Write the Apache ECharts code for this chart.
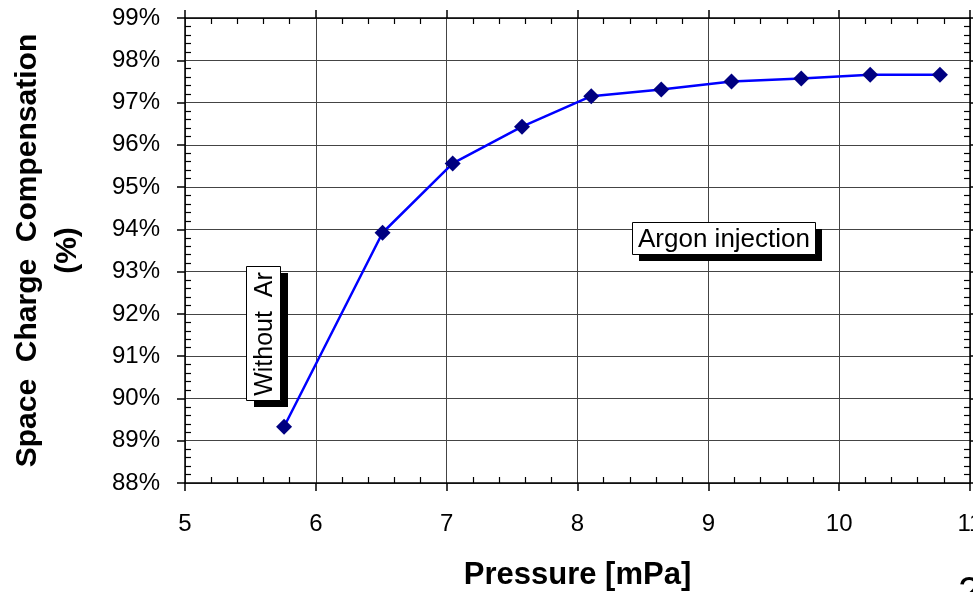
<!DOCTYPE html>
<html>
<head>
<meta charset="utf-8">
<script src="https://cdn.jsdelivr.net/npm/echarts@6/dist/echarts.min.js"></script>
<style>
html,body{margin:0;padding:0;background:#fff;}
#chart{width:973px;height:592px;}
</style>
</head>
<body>
<div id="chart"></div>
<script>
// Data
var pressure = [5.757, 6.51, 7.046, 7.576, 8.105, 8.64, 9.177, 9.71, 10.237, 10.77];
var compensation = [89.33, 93.92, 95.56, 96.43, 97.15, 97.31, 97.50, 97.57, 97.66, 97.66];
var xTitle = 'Pressure [mPa]';
var yTitle = 'Space  Charge  Compensation\n(%)';
var annotations = ['Argon injection', 'Without  Ar'];

var FONT = '"Liberation Sans", Arial, sans-serif';
var chart = echarts.init(document.getElementById('chart'));

var gridColor = '#444';
function baseX(extra) {
  return Object.assign({
    type: 'value', min: 5, max: 11, interval: 1, gridIndex: 0,
    axisLine: { show: true, onZero: false, lineStyle: { color: '#000', width: 1.5 } },
    axisTick: { show: true, length: 8, lineStyle: { color: '#000', width: 1.5 } },
    axisLabel: { show: false },
    splitLine: { show: false },
    minorTick: { show: false }
  }, extra);
}
function baseY(extra) {
  return Object.assign({
    type: 'value', min: 88, max: 99, interval: 1, gridIndex: 0,
    axisLine: { show: true, onZero: false, lineStyle: { color: '#000', width: 1.5 } },
    axisTick: { show: true, length: 8, lineStyle: { color: '#000', width: 1.5 } },
    axisLabel: { show: false },
    splitLine: { show: false },
    minorTick: { show: false }
  }, extra);
}
var minorX = { axisLine: { show: false }, axisTick: { show: false, inside: true },
  minorTick: { show: true, splitNumber: 5, length: 6, lineStyle: { color: '#000', width: 1.2 } } };
var minorY = { axisLine: { show: false }, axisTick: { show: false, inside: true },
  minorTick: { show: true, splitNumber: 5, length: 6, lineStyle: { color: '#000', width: 1.2 } } };

var option = {
  animation: false,
  backgroundColor: '#fff',
  grid: { left: 185, right: 3, top: 18, bottom: 109, containLabel: false, outerBoundsMode: 'none' },
  xAxis: [
    baseX({
      position: 'bottom',
      axisLabel: { show: true, fontSize: 24, color: '#000', fontFamily: FONT, margin: 29 },
      splitLine: { show: true, lineStyle: { color: gridColor, width: 1 } },
      name: xTitle, nameLocation: 'middle', nameGap: 77,
      nameTextStyle: { fontSize: 31, fontWeight: 'bold', color: '#000', fontFamily: FONT }
    }),
    baseX(Object.assign({ position: 'bottom' }, minorX)),
    baseX({ position: 'top' }),
    baseX(Object.assign({ position: 'top' }, minorX))
  ],
  yAxis: [
    baseY({
      position: 'left',
      axisLabel: { show: true, fontSize: 24, color: '#000', fontFamily: FONT, margin: 25,
        formatter: '{value}%' },
      splitLine: { show: true, lineStyle: { color: gridColor, width: 1 } },
      name: yTitle, nameLocation: 'middle', nameGap: 97, nameRotate: 90,
      nameTextStyle: { fontSize: 30, fontWeight: 'bold', color: '#000', fontFamily: FONT, lineHeight: 40, align: 'center' }
    }),
    baseY(Object.assign({ position: 'left' }, minorY)),
    baseY({ position: 'right' }),
    baseY(Object.assign({ position: 'right' }, minorY))
  ],
  series: [{
    type: 'line',
    xAxisIndex: 0, yAxisIndex: 0,
    data: pressure.map(function (p, i) { return [p, compensation[i]]; }),
    lineStyle: { color: '#0000ff', width: 2.5 },
    itemStyle: { color: '#000080' },
    symbol: 'diamond', symbolSize: 16,
    showSymbol: true,
    z: 5
  }],
  graphic: [
    // Argon injection label
    { type: 'rect', shape: { x: 639, y: 229, width: 183, height: 32 }, style: { fill: '#000' }, z: 10 },
    { type: 'rect', shape: { x: 632.5, y: 222.5, width: 183, height: 32 }, style: { fill: '#fff', stroke: '#000', lineWidth: 1 }, z: 11 },
    { type: 'text', x: 724, y: 240, z: 12,
      style: { text: annotations[0], font: '26px ' + FONT, fill: '#000', align: 'center', verticalAlign: 'middle' } },
    // Without Ar label (rotated)
    { type: 'rect', shape: { x: 254, y: 273, width: 34, height: 134 }, style: { fill: '#000' }, z: 10 },
    { type: 'rect', shape: { x: 246.5, y: 266.5, width: 34, height: 134 }, style: { fill: '#fff', stroke: '#000', lineWidth: 1 }, z: 11 },
    { type: 'text', x: 265, y: 334, rotation: Math.PI / 2, z: 12,
      style: { text: annotations[1], font: '25px ' + FONT, fill: '#000', align: 'center', verticalAlign: 'middle' } },
    // page-number fragment at bottom right
    { type: 'text', x: 958, y: 574, z: 12,
      style: { text: '2', font: '40px ' + FONT, fill: '#000' } }
  ]
};
chart.setOption(option);
</script>
</body>
</html>
